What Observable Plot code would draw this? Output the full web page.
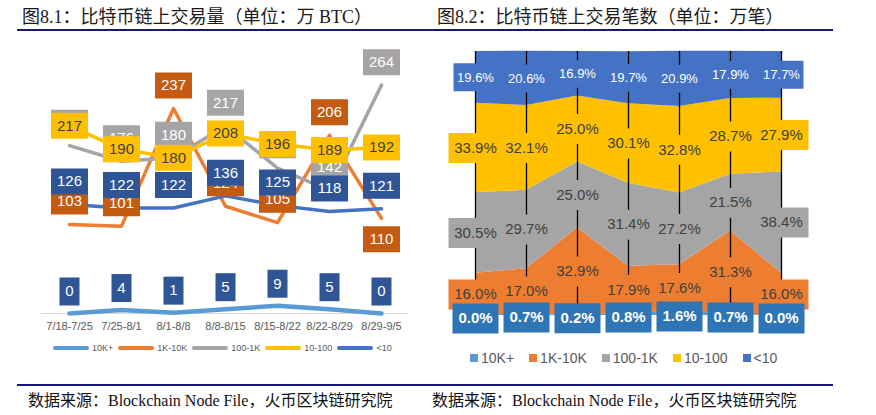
<!DOCTYPE html>
<html>
<head>
<meta charset="utf-8">
<script src="https://cdn.jsdelivr.net/npm/d3@7"></script>
<script src="https://cdn.jsdelivr.net/npm/@observablehq/plot@0.6"></script>
<style>
  html, body { margin: 0; padding: 0; background: #fff; }
  #root { position: relative; width: 876px; height: 415px; background: #fff; overflow: hidden; }
  .title { position: absolute; font-family: "Liberation Serif", "Noto Sans CJK SC", serif; font-size: 18px; line-height: 20px; color: #1a1a1a; white-space: nowrap; }
  .caption { position: absolute; font-family: "Liberation Serif", "Noto Sans CJK SC", serif; font-size: 16px; line-height: 18px; color: #111; white-space: nowrap; }
  .rule { position: absolute; height: 2px; background: #17177a; }
  .chart { position: absolute; }
  .legend { position: absolute; display: flex; align-items: center; font-family: "Liberation Sans", Arial, sans-serif; color: #595959; white-space: nowrap; }
  .legend .item { display: flex; align-items: center; }
</style>
</head>
<body>
<div id="root">
  <div class="title" style="left:22px;top:7px">图8.1：比特币链上交易量（单位：万 BTC）</div>
  <div class="title" style="left:437px;top:7px">图8.2：比特币链上交易笔数（单位：万笔）</div>
  <div class="rule" style="left:17px;top:29px;width:816px"></div>
  <div id="left" class="chart" style="left:0;top:40px"></div>
  <div id="right" class="chart" style="left:430px;top:40px"></div>
  <div id="legL" class="legend" style="left:53px;top:341px;height:14px;font-size:9px;gap:5px"></div>
  <div id="legR" class="legend" style="left:470px;top:349px;height:18px;font-size:14px;gap:15px"></div>
  <div class="rule" style="left:17px;top:384px;width:816px"></div>
  <div class="caption" style="left:28px;top:392px">数据来源：Blockchain Node File，火币区块链研究院</div>
  <div class="caption" style="left:432px;top:392px">数据来源：Blockchain Node File，火币区块链研究院</div>
</div>
<script>
// ---------- DATA ----------
const categories = ["7/18-7/25", "7/25-8/1", "8/1-8/8", "8/8-8/15", "8/15-8/22", "8/22-8/29", "8/29-9/5"];
const seriesNames = ["10K+", "1K-10K", "100-1K", "10-100", "<10"];

// Fig 8.1: on-chain volume (万 BTC)
const vol10Kplus = [0, 4, 1, 5, 9, 5, 0];
const vol1Kto10K = [103, 101, 237, 124, 105, 206, 110];
const vol100to1K = [194, 176, 180, 217, 168, 142, 264];
const vol10to100 = [217, 190, 180, 208, 196, 189, 192];
const volUnder10 = [126, 122, 122, 136, 125, 118, 121];

// Fig 8.2: share of transaction count (%)
const cnt10Kplus = [0.0, 0.7, 0.2, 0.8, 1.6, 0.7, 0.0];
const cnt1Kto10K = [16.0, 17.0, 32.9, 17.9, 17.6, 31.3, 16.0];
const cnt100to1K = [30.5, 29.7, 25.0, 31.4, 27.2, 21.5, 38.4];
const cnt10to100 = [33.9, 32.1, 25.0, 30.1, 32.8, 28.7, 27.9];
const cntUnder10 = [19.6, 20.6, 16.9, 19.7, 20.9, 17.9, 17.7];

// ---------- STYLE ----------
const seriesColors = ["#5B9BD5", "#ED7D31", "#A5A5A5", "#FFC000", "#4472C4"];
const font = "Liberation Sans, Arial, sans-serif";

const rectSymbol = (w, h) => ({
  draw(ctx) {
    ctx.moveTo(-w / 2, -h / 2);
    ctx.lineTo(w / 2, -h / 2);
    ctx.lineTo(w / 2, h / 2);
    ctx.lineTo(-w / 2, h / 2);
    ctx.closePath();
  }
});

// ---------- LEFT CHART ----------
const volSeries = [vol10Kplus, vol1Kto10K, vol100to1K, vol10to100, volUnder10];
const volRows = seriesNames.flatMap((s, k) =>
  volSeries[k].map((v, i) => ({cat: categories[i], series: s, value: v, i})));

const leftLabel = {
  "10K+":   {box: "#2F5597", text: "#fff",    w: 20, h: 28, dy: -22},
  "1K-10K": {box: "#C55A11", text: "#fff",    w: 37, h: 26, dy: -23},
  "100-1K": {box: "#A5A5A5", text: "#fff",    w: 37, h: 26, dy: -23},
  "10-100": {box: "#FFC000", text: "#404040", w: 37, h: 26, dy: 0},
  "<10":    {box: "#2F5597", text: "#fff",    w: 37, h: 26, dy: -23}
};
// the last 1K-10K label sits below its point
const isBelow = d => d.series === "1K-10K" && d.i === categories.length - 1;

const leftMarks = [
  Plot.ruleY([0], {stroke: "#D9D9D9", strokeWidth: 1})
];
seriesNames.forEach((s, k) => {
  leftMarks.push(Plot.line(volRows.filter(d => d.series === s), {
    x: "cat", y: "value", stroke: seriesColors[k],
    strokeWidth: k === 0 ? 4.5 : 3.5, strokeLinecap: "round", strokeLinejoin: "round"
  }));
});
seriesNames.forEach((s) => {
  const st = leftLabel[s];
  const groups = [
    {rows: volRows.filter(d => d.series === s && !isBelow(d)), dy: st.dy},
    {rows: volRows.filter(d => d.series === s && isBelow(d)), dy: 21}
  ];
  groups.forEach(g => {
    if (!g.rows.length) return;
    leftMarks.push(Plot.dot(g.rows, {x: "cat", y: "value", symbol: rectSymbol(st.w, st.h), fill: st.box, stroke: null, dy: g.dy}));
    leftMarks.push(Plot.text(g.rows, {x: "cat", y: "value", text: d => String(d.value), fill: st.text, fontSize: 15, dy: g.dy, fontFamily: font}));
  });
});
leftMarks.push(Plot.text(categories, {x: d => d, y: d => 0, text: d => d, dy: 13, fontSize: 11, fill: "#595959", fontFamily: font}));

const leftPlot = Plot.plot({
  width: 430, height: 300,
  marginLeft: 41, marginRight: 22, marginTop: 0, marginBottom: 0,
  x: {type: "point", domain: categories, range: [68, 382], padding: 0, axis: null},
  y: {domain: [0, 300], range: [273, 13.5], axis: null},
  style: {fontFamily: font, background: "transparent", overflow: "visible"},
  marks: leftMarks
});
document.getElementById("left").appendChild(leftPlot);

// ---------- RIGHT CHART ----------
const cntSeries = [cnt10Kplus, cnt1Kto10K, cnt100to1K, cnt10to100, cntUnder10];
const cntRows = [];
categories.forEach((c, i) => {
  let acc = 0;
  seriesNames.forEach((s, k) => {
    const v = cntSeries[k][i];
    cntRows.push({cat: c, series: s, value: v, y1: acc, y2: acc + v, mid: acc + v / 2});
    acc += v;
  });
});
const rightLabel = {
  "10K+":   {box: "#2E75B6", text: "#fff",    w: 46, h: 30, size: 15, weight: "bold",   dy: 3},
  "1K-10K": {box: "#ED7D31", text: "#404040", w: 54, h: 30, size: 15, weight: "normal", dy: 0},
  "100-1K": {box: "#A5A5A5", text: "#404040", w: 54, h: 30, size: 15, weight: "normal", dy: 0},
  "10-100": {box: "#FFC000", text: "#404040", w: 54, h: 30, size: 15, weight: "normal", dy: 0},
  "<10":    {box: "#4472C4", text: "#fff",    w: 44, h: 28, size: 13, weight: "normal", dy: 0}
};
const rightMarks = [
  Plot.areaY(cntRows, {x: "cat", y1: "y1", y2: "y2", fill: "series", z: "series"}),
  Plot.ruleX(categories, {x: d => d, y1: 0, y2: 100, stroke: "#000", strokeWidth: 1.3})
];
seriesNames.slice().reverse().forEach((s) => {
  const st = rightLabel[s];
  const rows = cntRows.filter(d => d.series === s);
  rightMarks.push(Plot.dot(rows, {x: "cat", y: "mid", symbol: rectSymbol(st.w, st.h), fill: st.box, stroke: null, dy: st.dy}));
  rightMarks.push(Plot.text(rows, {x: "cat", y: "mid", text: d => d.value.toFixed(1) + "%", fill: st.text, fontSize: st.size, fontWeight: st.weight, dy: st.dy, fontFamily: font}));
});
const rightPlot = Plot.plot({
  width: 446, height: 300,
  marginLeft: 0, marginRight: 0, marginTop: 0, marginBottom: 0,
  x: {type: "point", domain: categories, range: [43, 353], padding: 0, axis: null},
  y: {domain: [0, 100], range: [275, 11], axis: null},
  color: {domain: seriesNames, range: seriesColors},
  style: {fontFamily: font, background: "transparent", overflow: "visible"},
  marks: rightMarks
});
document.getElementById("right").appendChild(rightPlot);

// ---------- LEGENDS ----------
const legL = document.getElementById("legL");
seriesNames.forEach((s, k) => {
  const it = document.createElement("div");
  it.className = "item";
  it.innerHTML = `<svg width="36" height="8" style="margin-right:3px"><line x1="2" y1="4" x2="34" y2="4" stroke="${seriesColors[k]}" stroke-width="4" stroke-linecap="round"/></svg><span>${s.replace("<", "&lt;")}</span>`;
  legL.appendChild(it);
});
const legR = document.getElementById("legR");
seriesNames.forEach((s, k) => {
  const it = document.createElement("div");
  it.className = "item";
  it.innerHTML = `<span style="display:inline-block;width:8px;height:8px;background:${seriesColors[k]};margin-right:3px"></span><span>${s.replace("<", "&lt;")}</span>`;
  legR.appendChild(it);
});
</script>
</body>
</html>
